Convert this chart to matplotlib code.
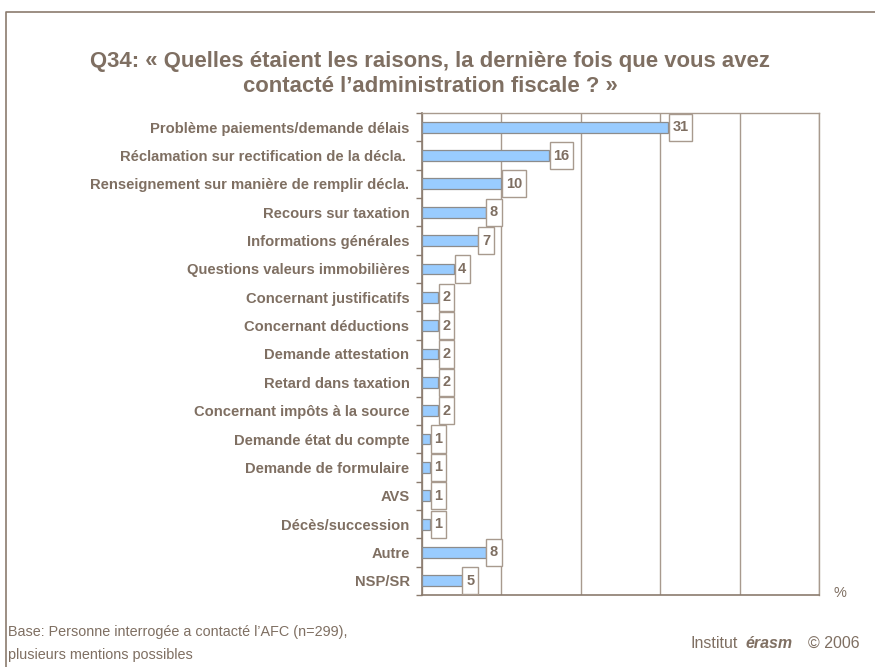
import matplotlib
matplotlib.use("Agg")
import matplotlib.pyplot as plt
from matplotlib.patches import Rectangle
from matplotlib.lines import Line2D

categories = [
    "Problème paiements/demande délais",
    "Réclamation sur rectification de la décla. ",
    "Renseignement sur manière de remplir décla.",
    "Recours sur taxation",
    "Informations générales",
    "Questions valeurs immobilières",
    "Concernant justificatifs",
    "Concernant déductions",
    "Demande attestation",
    "Retard dans taxation",
    "Concernant impôts à la source",
    "Demande état du compte",
    "Demande de formulaire",
    "AVS",
    "Décès/succession",
    "Autre",
    "NSP/SR",
]
values = [31, 16, 10, 8, 7, 4, 2, 2, 2, 2, 2, 1, 1, 1, 1, 8, 5]
xticks = [0, 10, 20, 30, 40, 50]

TXT = "#7f6f62"
GRID = "#a89a8e"
SPINE = "#8b7b6e"
BAR = "#99ccff"

plt.rcParams["font.family"] = ["Liberation Sans", "DejaVu Sans"]

W, H = 875, 667
fig = plt.figure(figsize=(W / 100, H / 100), dpi=100)
fig.patch.set_facecolor("white")

ax = fig.add_axes([422 / W, 1 - 595 / H, (819 - 422) / W, (595 - 113) / H])
n = len(categories)
ys = list(range(n))
ax.barh(ys, values, height=0.38, color=BAR, edgecolor="#8c8c8c", linewidth=0.9, zorder=3)
ax.set_ylim(n - 0.5, -0.5)
ax.set_xlim(xticks[0], xticks[-1])
ax.set_xticks(xticks)
ax.tick_params(axis="x", length=0, labelbottom=False)
ax.xaxis.grid(True, color=GRID, linewidth=1.0, zorder=0)
ax.set_axisbelow(True)

ax.set_yticks(ys)
ax.set_yticklabels(categories, fontsize=10.6, fontweight="bold", color=TXT)
ax.tick_params(axis="y", which="major", length=0, pad=9)
ax.set_yticks([i - 0.5 for i in range(n + 1)], minor=True)
ax.tick_params(axis="y", which="minor", length=4, color=SPINE, width=1)

for s in ["left", "bottom"]:
    ax.spines[s].set_color(SPINE)
    ax.spines[s].set_linewidth(1.2)
for s in ["top", "right"]:
    ax.spines[s].set_color(GRID)
    ax.spines[s].set_linewidth(1.0)

for y, v in zip(ys, values):
    lab = str(v)
    w = 0.95 + 1.0 * len(lab)
    x0 = v + 0.1
    ax.add_patch(Rectangle((x0, y - 0.48), w, 0.96, facecolor="white",
                           edgecolor=GRID, linewidth=1.0, zorder=4))
    ax.text(x0 + w / 2, y, lab, ha="center", va="center", fontsize=10.5,
            fontweight="bold", color=TXT, zorder=5)

fig.text(833 / W, 1 - 593 / H, "%", fontsize=10.5, color=TXT, ha="left", va="center")

fig.text(430 / W, 1 - 61 / H,
         "Q34: « Quelles étaient les raisons, la dernière fois que vous avez",
         ha="center", va="center", fontsize=15.9, fontweight="bold", color=TXT)
fig.text(430 / W, 1 - 86 / H,
         "contacté l’administration fiscale ? »",
         ha="center", va="center", fontsize=15.9, fontweight="bold", color=TXT)

fig.text(8 / W, 1 - 632 / H, "Base: Personne interrogée a contacté l’AFC (n=299),",
         fontsize=10.4, color=TXT, ha="left", va="center")
fig.text(8 / W, 1 - 655 / H, "plusieurs mentions possibles",
         fontsize=10.4, color=TXT, ha="left", va="center")

fig.text(691 / W, 1 - 643 / H, "Institut", fontsize=11.5, color=TXT, ha="left", va="center")
fig.text(745 / W, 1 - 643 / H, "érasm", fontsize=11.5, color=TXT, ha="left", va="center",
         fontweight="bold", fontstyle="italic")
fig.text(860 / W, 1 - 643 / H, "© 2006", fontsize=11.5, color=TXT, ha="right", va="center")

fig.add_artist(Line2D([6 / W, 6 / W, 1.0], [0.0, 1 - 12 / H, 1 - 12 / H],
                      transform=fig.transFigure, color=SPINE, linewidth=1.2))

fig.savefig("out.png", dpi=100, facecolor="white")
